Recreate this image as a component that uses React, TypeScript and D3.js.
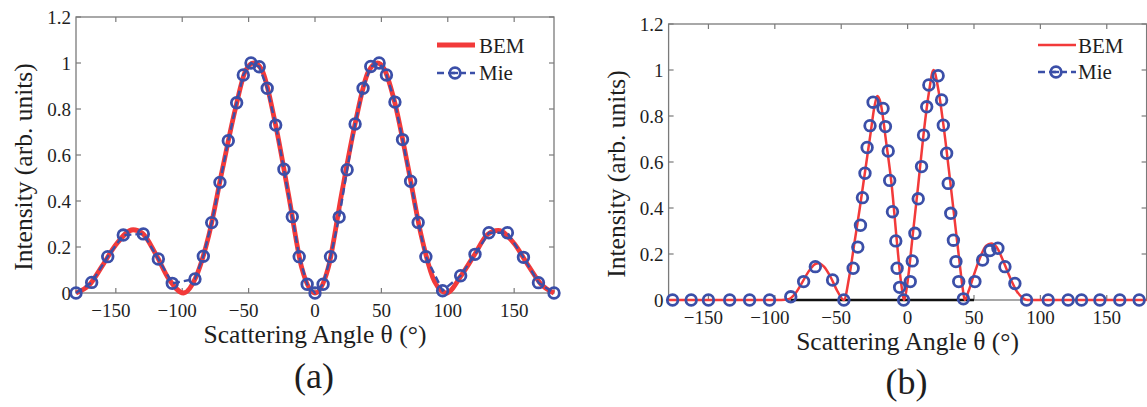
import React from 'react';
import * as d3 from 'd3';

const xTicks = [-150, -100, -50, 0, 50, 100, 150];
const yTicks = [0, 0.2, 0.4, 0.6, 0.8, 1, 1.2];
const yTickLabels = ['0', '0.2', '0.4', '0.6', '0.8', '1', '1.2'];
const legendLabels = ['BEM', 'Mie'];
const panelLabels = ['(a)', '(b)'];
const xLabel = 'Scattering Angle θ (°)';
const yLabel = 'Intensity (arb. units)';

// Panel (a)
const aMieAngle = [-180, -168.2, -156.1, -144.4, -129.3, -118, -107.5, -90.4, -84.1, -77.8, -71.6, -65.3, -59, -54, -48.2, -42, -36, -29.6, -23.4, -17.1, -11.9, -5.9, 0, 6.1, 11.7, 18.2, 24.2, 30.2, 36.2, 42, 48.3, 53.8, 60.2, 65.9, 72, 77.7, 83.5, 96.1, 109.7, 120.5, 131, 144.9, 157, 168.3, 180];
const aMieValue = [0, 0.046, 0.158, 0.252, 0.257, 0.148, 0.042, 0.061, 0.16, 0.306, 0.481, 0.662, 0.827, 0.948, 1.0, 0.984, 0.89, 0.73, 0.538, 0.332, 0.158, 0.038, 0, 0.038, 0.158, 0.33, 0.536, 0.735, 0.89, 0.985, 1.0, 0.948, 0.83, 0.667, 0.486, 0.307, 0.158, 0.01, 0.075, 0.168, 0.262, 0.262, 0.155, 0.045, 0];
const aBemAngle = [-180, -170, -160, -150, -137, -130, -120, -110, -99, -90, -80, -70, -60, -52, -46, -40, -30, -20, -10, 0, 10, 20, 30, 40, 47, 52, 60, 70, 80, 90, 99, 110, 120, 130, 138, 150, 160, 170, 180];
const aBemValue = [0, 0.035, 0.12, 0.21, 0.275, 0.26, 0.17, 0.06, 0, 0.065, 0.25, 0.53, 0.8, 0.97, 1.0, 0.97, 0.74, 0.43, 0.11, 0, 0.11, 0.43, 0.73, 0.96, 1.0, 0.975, 0.83, 0.55, 0.25, 0.05, 0, 0.075, 0.165, 0.255, 0.272, 0.215, 0.125, 0.04, 0];

// Panel (b)
const bMieAngle = [-177, -163, -150, -134, -119, -104, -88, -78.3, -69.5, -56.5, -48, -41, -37.5, -35.5, -34, -32.1, -30.5, -28.3, -26, -18.5, -16.7, -14.6, -13.5, -11.4, -8.9, -7.9, -6, -3, 2, 3.5, 5.5, 8, 10.5, 12, 14.4, 16, 23, 25.6, 26.9, 29.4, 30.6, 32.5, 34.5, 36.4, 38.5, 42, 50.7, 56.5, 62, 68, 73.3, 80.8, 89.6, 105.9, 120.9, 131, 144.8, 159.8, 174.4];
const bMieValue = [0, 0, 0, 0, 0, 0, 0.014, 0.08, 0.145, 0.087, 0, 0.138, 0.23, 0.325, 0.445, 0.551, 0.663, 0.758, 0.86, 0.833, 0.754, 0.648, 0.52, 0.384, 0.257, 0.138, 0.055, 0, 0.08, 0.17, 0.29, 0.44, 0.58, 0.717, 0.84, 0.935, 0.975, 0.87, 0.76, 0.638, 0.507, 0.377, 0.26, 0.167, 0.08, 0.005, 0.08, 0.174, 0.215, 0.225, 0.145, 0.072, 0, 0, 0, 0, 0, 0, 0];
const bBemAngle = [-180, -95, -90, -85, -80, -75, -70, -67, -63, -58, -53, -48, -44, -40, -36, -32, -28, -25, -22.8, -20.5, -16, -12, -8, -5, -2.5, 0, 4, 8, 12, 16, 19.5, 23, 27, 31, 35, 39, 41.5, 43, 46, 50, 55, 59, 63, 67, 72, 77, 82, 87, 90, 180];
const bBemValue = [0, 0, 0.003, 0.025, 0.07, 0.12, 0.155, 0.16, 0.145, 0.1, 0.04, 0, 0.1, 0.25, 0.4, 0.56, 0.72, 0.84, 0.887, 0.86, 0.68, 0.5, 0.25, 0.08, 0, 0.08, 0.29, 0.5, 0.72, 0.9, 1.0, 0.92, 0.76, 0.57, 0.37, 0.17, 0.05, 0, 0.04, 0.11, 0.19, 0.235, 0.246, 0.23, 0.17, 0.1, 0.04, 0.008, 0, 0];
const bZeroLineAngle = [-88, 50];

const RED = '#f23a3a';
const BLUE = '#3b4fa8';
const AXIS = '#7a7a7a';
const TEXT = '#1e1e1e';
const FONT = 'Liberation Serif, DejaVu Serif, serif';
const fs = (size: number) => ({ fontFamily: FONT, fontSize: size + 'px' });

type PanelProps = {
  left: number; top: number; width: number; height: number;
  mieA: number[]; mieV: number[]; bemA: number[]; bemV: number[];
  bemWidth: number; mieLine: boolean; zeroLine?: number[];
  legX: number; legYBem: number; legYMie: number; legTextX: number;
  legBemBase: number; legMieBase: number;
  label: string; labelBase: number;
};

function Panel(p: PanelProps) {
  const x = d3.scaleLinear().domain([-180, 180]).range([p.left, p.left + p.width]);
  const y = d3.scaleLinear().domain([0, 1.2]).range([p.top + p.height, p.top]);
  const bottom = p.top + p.height;
  const right = p.left + p.width;
  const bemLine = d3.line<number>()
    .x((_, i) => x(p.bemA[i]))
    .y((d) => y(d))
    .curve(d3.curveMonotoneX);
  const mieLine = d3.line<number>()
    .x((_, i) => x(p.mieA[i]))
    .y((d) => y(d));
  const tl = 5;
  const cx = (p.left + right) / 2;
  const mr = 5.3;
  const mw = 2.8;
  return (
    <g>
      <rect x={p.left} y={p.top} width={p.width} height={p.height} fill="none" stroke={AXIS} strokeWidth={1.3} />
      {xTicks.map((t) => (
        <g key={'xt' + t}>
          <line x1={x(t)} x2={x(t)} y1={bottom} y2={bottom - tl} stroke={AXIS} strokeWidth={1.2} />
          <line x1={x(t)} x2={x(t)} y1={p.top} y2={p.top + tl} stroke={AXIS} strokeWidth={1.2} />
          <text x={x(t)} dx={t < 0 ? -5 : 0} y={bottom + 24} textAnchor="middle" fill={TEXT} style={fs(19)}>
            {t < 0 ? '\u2212' + Math.abs(t) : String(t)}
          </text>
        </g>
      ))}
      {yTicks.map((t, i) => (
        <g key={'yt' + t}>
          <line x1={p.left} x2={p.left + tl} y1={y(t)} y2={y(t)} stroke={AXIS} strokeWidth={1.2} />
          <line x1={right} x2={right - tl} y1={y(t)} y2={y(t)} stroke={AXIS} strokeWidth={1.2} />
          <text x={p.left - 5} y={y(t)} dy="0.35em" textAnchor="end" fill={TEXT} style={fs(19)}>
            {yTickLabels[i]}
          </text>
        </g>
      ))}
      {p.zeroLine && (
        <line x1={x(p.zeroLine[0])} x2={x(p.zeroLine[1])} y1={y(0)} y2={y(0)} stroke="#111" strokeWidth={2.5} />
      )}
      <path d={bemLine(p.bemV) || ''} fill="none" stroke={RED} strokeWidth={p.bemWidth} strokeLinejoin="round" />
      {p.mieLine && (
        <path d={mieLine(p.mieV) || ''} fill="none" stroke={BLUE} strokeWidth={2.4} strokeDasharray="7,4" />
      )}
      {p.mieV.map((v, i) => (
        <circle key={'m' + i} cx={x(p.mieA[i])} cy={y(v)} r={mr} fill="none" stroke={BLUE} strokeWidth={mw} />
      ))}
      <line x1={p.legX} x2={p.legX + 38} y1={p.legYBem} y2={p.legYBem} stroke={RED} strokeWidth={p.bemWidth} />
      <text x={p.legTextX} y={p.legBemBase} fill={TEXT} style={fs(21)}>{legendLabels[0]}</text>
      <line x1={p.legX} x2={p.legX + 38} y1={p.legYMie} y2={p.legYMie} stroke={BLUE} strokeWidth={2.4} strokeDasharray="7,4" />
      <circle cx={p.legX + 18} cy={p.legYMie} r={mr} fill="none" stroke={BLUE} strokeWidth={mw} />
      <line x1={p.legX + 15} x2={p.legX + 21} y1={p.legYMie} y2={p.legYMie} stroke={BLUE} strokeWidth={2.4} />
      <text x={p.legTextX} y={p.legMieBase} fill={TEXT} style={fs(21)}>{legendLabels[1]}</text>
      <text x={cx} y={bottom + 50} textAnchor="middle" fill={TEXT} style={fs(25.5)}>{xLabel}</text>
      <text transform={`translate(${p.left - 44},${p.top + 150}) rotate(-90)`} textAnchor="middle" fill={TEXT} style={fs(25.5)}>{yLabel}</text>
      <text x={cx - 1} y={p.labelBase} textAnchor="middle" fill={TEXT} style={fs(36)}>{p.label}</text>
    </g>
  );
}

export default function App() {
  return (
    <svg width={1147} height={407} style={{ position: 'absolute', left: 0, top: 0, background: '#fff' }}>
      <rect x={0} y={0} width={1147} height={407} fill="#fff" />
      <Panel left={76} top={17} width={478} height={276}
        mieA={aMieAngle} mieV={aMieValue} bemA={aBemAngle} bemV={aBemValue}
        bemWidth={4.8} mieLine={true}
        legX={437} legYBem={45} legYMie={73} legTextX={479} legBemBase={53} legMieBase={80}
        label={panelLabels[0]} labelBase={388} />
      <Panel left={668.6} top={24} width={478} height={276}
        mieA={bMieAngle} mieV={bMieValue} bemA={bBemAngle} bemV={bBemValue}
        bemWidth={2.5} mieLine={false} zeroLine={bZeroLineAngle}
        legX={1038} legYBem={45} legYMie={72} legTextX={1078} legBemBase={53} legMieBase={79}
        label={panelLabels[1]} labelBase={394} />
    </svg>
  );
}
